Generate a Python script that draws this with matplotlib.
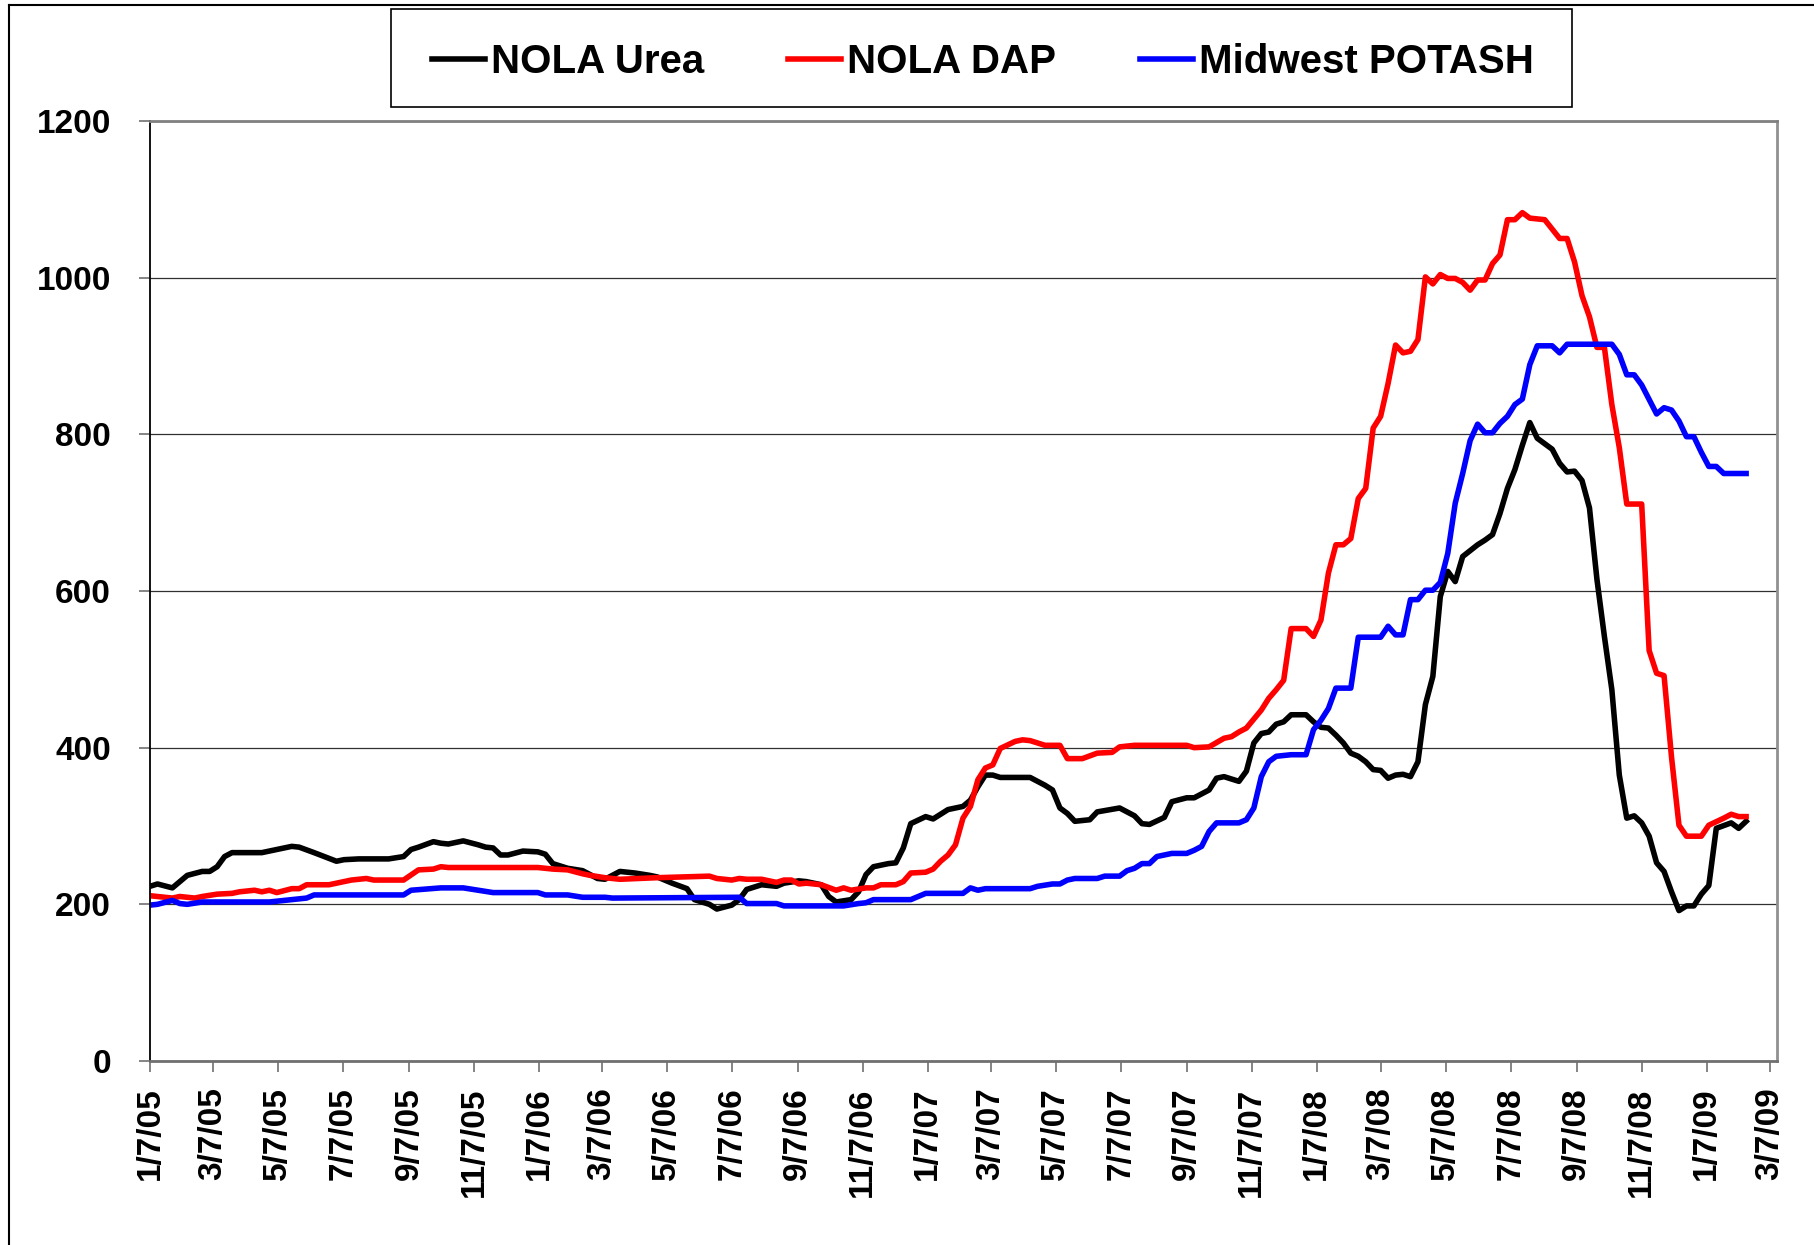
import numpy as np
import matplotlib
matplotlib.use("Agg")
import matplotlib.pyplot as plt
from matplotlib.lines import Line2D
from matplotlib.patches import Rectangle

# weekly prices, week index counted from Friday 1/7/05
start = np.datetime64("2005-01-07")

urea_weeks = [0, 1, 3, 5, 7, 8, 9, 10, 11, 15, 17, 19, 20, 22, 25, 26, 28, 32, 34, 35,
              36, 38, 39, 40, 42, 44, 45, 46, 47, 48, 50, 52, 53, 54, 56, 58, 60, 61, 63, 65,
              67, 68, 70, 72, 73, 75, 76, 78, 79, 80, 82, 84, 85, 87, 88, 90, 91, 92, 94, 95,
              96, 97, 99, 100, 101, 102, 104, 105, 107, 109, 110, 111, 112, 113, 114, 118, 120, 121, 122, 123,
              124, 126, 127, 130, 132, 133, 134, 136, 137, 139, 140, 142, 143, 144, 146, 147, 148, 149, 150, 151,
              152, 153, 155, 156, 157, 158, 159, 160, 161, 162, 163, 164, 165, 166, 167, 168, 169, 170, 171, 172,
              173, 174, 175, 176, 178, 179, 180, 181, 182, 183, 184, 185, 186, 188, 189, 190, 191, 192, 193, 194,
              195, 196, 197, 198, 199, 200, 201, 202, 203, 204, 205, 206, 207, 208, 209, 210, 212, 213, 214]
urea = [223, 226, 221, 237, 242, 242, 248, 261, 266, 266, 270, 274, 273, 266, 255, 257, 258, 258, 261, 270,
        273, 280, 278, 277, 281, 276, 273, 272, 263, 263, 268, 267, 264, 252, 246, 243, 233, 232, 242, 240,
        237, 235, 227, 220, 206, 200, 194, 199, 206, 219, 225, 223, 227, 230, 229, 225, 210, 203, 206, 216,
        238, 248, 252, 253, 272, 303, 312, 309, 321, 325, 333, 350, 365, 365, 362, 362, 352, 346, 323, 316,
        306, 308, 318, 323, 313, 303, 302, 311, 331, 336, 336, 346, 361, 363, 357, 370, 406, 418, 420, 430,
        433, 442, 442, 433, 426, 425, 416, 406, 393, 389, 382, 372, 371, 361, 365, 366, 363, 382, 455, 491,
        593, 625, 612, 644, 659, 665, 672, 699, 731, 755, 786, 815, 795, 781, 763, 752, 753, 741, 706, 615,
        542, 474, 365, 310, 313, 304, 287, 253, 242, 216, 192, 198, 198, 213, 224, 297, 304, 297, 306]

dap_weeks = [0, 3, 4, 6, 7, 9, 11, 12, 14, 15, 16, 17, 19, 20, 21, 24, 27, 29, 30, 34,
             36, 38, 39, 40, 52, 54, 56, 58, 59, 61, 63, 68, 75, 76, 78, 79, 80, 82, 84, 85,
             86, 87, 88, 90, 92, 93, 94, 96, 97, 98, 100, 101, 102, 104, 105, 106, 107, 108, 109, 110,
             111, 112, 113, 114, 116, 117, 118, 120, 122, 123, 125, 127, 129, 130, 132, 139, 140, 142, 144, 145,
             146, 147, 149, 150, 151, 152, 153, 155, 156, 157, 158, 159, 160, 161, 162, 163, 164, 165, 166, 167,
             168, 169, 170, 171, 172, 173, 174, 175, 176, 177, 178, 179, 180, 181, 182, 183, 184, 185, 187, 188,
             189, 190, 191, 192, 193, 194, 195, 196, 197, 198, 200, 201, 202, 203, 204, 205, 206, 208, 209, 211,
             212, 213, 214]
dap = [211, 208, 210, 208, 210, 213, 214, 216, 218, 216, 218, 215, 220, 220, 225, 225, 231, 233, 231, 231,
       244, 245, 248, 247, 247, 245, 244, 239, 237, 234, 232, 234, 236, 233, 231, 233, 232, 232, 228, 231,
       231, 226, 227, 225, 218, 221, 218, 221, 221, 225, 225, 229, 240, 241, 245, 255, 263, 276, 310, 325,
       359, 374, 378, 399, 408, 410, 409, 403, 403, 386, 386, 393, 394, 401, 403, 403, 400, 401, 412, 414,
       420, 425, 448, 463, 474, 486, 552, 552, 542, 563, 623, 659, 659, 667, 718, 731, 808, 823, 865, 914,
       904, 906, 921, 1001, 992, 1004, 999, 999, 994, 984, 997, 997, 1018, 1029, 1074, 1074, 1083, 1076, 1074, 1062,
       1050, 1050, 1020, 977, 950, 911, 911, 838, 783, 711, 711, 524, 495, 492, 388, 301, 287, 287, 301, 310,
       315, 312, 312]

potash_weeks = [0, 1, 3, 4, 5, 7, 16, 18, 20, 21, 22, 34, 35, 39, 42, 44, 46, 52, 53, 56,
                58, 61, 62, 79, 80, 84, 85, 93, 95, 96, 97, 102, 104, 109, 110, 111, 112, 118, 119, 121,
                122, 123, 124, 127, 128, 130, 131, 132, 133, 134, 135, 137, 139, 140, 141, 142, 143, 146, 147, 148,
                149, 150, 151, 153, 155, 156, 157, 158, 159, 161, 162, 165, 166, 167, 168, 169, 170, 171, 172, 173,
                174, 175, 176, 177, 178, 179, 180, 181, 182, 183, 184, 185, 186, 188, 189, 190, 196, 197, 198, 199,
                200, 202, 203, 204, 205, 206, 207, 208, 209, 210, 211, 214]
potash = [199, 200, 205, 201, 200, 203, 203, 205, 207, 208, 212, 212, 218, 221, 221, 218, 215, 215, 212, 212,
          209, 209, 208, 209, 201, 201, 198, 198, 201, 202, 206, 206, 214, 214, 221, 218, 220, 220, 223, 226,
          226, 231, 233, 233, 236, 236, 243, 246, 252, 252, 261, 265, 265, 269, 274, 293, 304, 304, 308, 323,
          363, 382, 389, 391, 391, 423, 435, 450, 476, 476, 541, 541, 555, 544, 544, 589, 589, 601, 601, 611,
          648, 712, 750, 792, 813, 802, 802, 814, 823, 838, 845, 889, 913, 913, 904, 915, 915, 902, 876, 876,
          863, 826, 834, 831, 817, 797, 797, 777, 759, 759, 750, 750]

series = [
    ("NOLA Urea", urea_weeks, urea, "black"),
    ("NOLA DAP", dap_weeks, dap, "#ff0000"),
    ("Midwest POTASH", potash_weeks, potash, "#0000ff"),
]

plt.rcParams["font.family"] = ["Liberation Sans", "DejaVu Sans"]
plt.rcParams["font.weight"] = "bold"

W, H = 1815, 1245
fig = plt.figure(figsize=(W / 100, H / 100), dpi=100)
ax = fig.add_axes([150 / W, 1 - 1061 / H, (1777 - 150) / W, (1061 - 121) / H])

for name, wk, vals, col in series:
    dates = start + np.array(wk) * np.timedelta64(7, "D")
    ax.plot(dates.astype("datetime64[D]").astype(object), vals, color=col, lw=4.0, label=name)

# axes
ax.set_ylim(0, 1200)
ax.set_yticks(range(0, 1201, 200))
ax.yaxis.grid(True, color="#303030", lw=0.9)
ax.set_axisbelow(True)

tick_dates = []
for y in range(2005, 2010):
    for m in (1, 3, 5, 7, 9, 11):
        d = np.datetime64(f"{y}-{m:02d}-07")
        if d <= np.datetime64("2009-03-07"):
            tick_dates.append(d.astype(object))
ax.set_xlim(np.datetime64("2005-01-07").astype(object), np.datetime64("2009-03-14").astype(object))
ax.set_xticks(tick_dates)
ax.set_xticklabels([f"{d.month}/{d.day}/{d.year % 100:02d}" for d in tick_dates],
                   rotation=90, fontsize=24, fontweight="bold")
ax.tick_params(axis="x", length=8, width=1.2, color="#707070", pad=11)
ax.tick_params(axis="y", length=8, width=1.2, color="#707070", pad=20, labelsize=24)
for lab in ax.get_yticklabels():
    lab.set_fontweight("bold")

ax.spines["left"].set_color("black")
ax.spines["left"].set_linewidth(1.3)
ax.spines["bottom"].set_color("#707070")
ax.spines["bottom"].set_linewidth(2)
ax.spines["right"].set_color("#909090")
ax.spines["right"].set_linewidth(2)
ax.spines["top"].set_color("#808080")
ax.spines["top"].set_linewidth(2)

# legend: entries centred in a separately drawn box
fig.add_artist(Rectangle((391 / W, 1 - 107 / H), (1572 - 391) / W, 98 / H,
                         transform=fig.transFigure, fill=False, edgecolor="black", lw=1.2))
fig.legend(loc="center", bbox_to_anchor=(983 / W, 1 - 62 / H), ncol=3, frameon=False,
           prop={"size": 29, "weight": "bold"}, handlelength=1.3, handletextpad=0.15,
           columnspacing=2.1, borderpad=0, borderaxespad=0)

# outer chart border (top and left edges are visible)
fig.add_artist(Line2D([9 / W, 1], [1 - 5 / H, 1 - 5 / H], transform=fig.transFigure,
                      color="black", lw=1.5))
fig.add_artist(Line2D([9 / W, 9 / W], [0, 1 - 5 / H], transform=fig.transFigure,
                      color="black", lw=1.5))

fig.savefig("out.png", dpi=100)
